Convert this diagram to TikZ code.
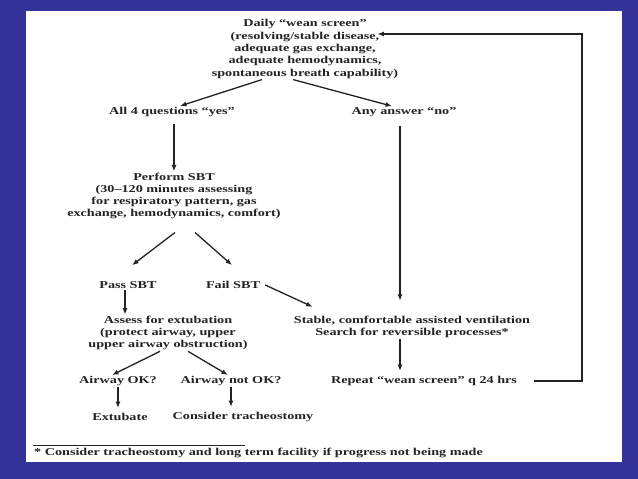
\documentclass[tikz,border=0pt]{standalone}
\usepackage{fontspec}
\newfontfamily\chartfont{Liberation Serif}[FakeStretch=1.35, Ligatures=TeX]
\usetikzlibrary{arrows.meta, positioning, calc}

\definecolor{slideblue}{RGB}{51,51,153}
\definecolor{ink}{RGB}{35,35,35}

\tikzset{
  lbl/.style={font=\chartfont\bfseries\fontsize{10.5}{12.3}\selectfont,
    text=ink, align=center, inner sep=1pt},
  arr/.style={-{Latex[length=6.5pt,width=5pt]}, line width=1.3pt, ink},
}

\begin{document}
\begin{tikzpicture}[x=1pt,y=1pt]
% slide frame
\fill[slideblue] (0,0) rectangle (638,479);
\fill[white] (26,17) rectangle (622,468);

% boxes of text
\node[lbl] (screen) at (305,430) {Daily ``wean screen''\\(resolving/stable disease,\\adequate gas exchange,\\adequate hemodynamics,\\spontaneous breath capability)};
\node[lbl] (yes) at (172,367) {All 4 questions ``yes''};
\node[lbl] (no) at (404,367) {Any answer ``no''};
\node[lbl] (sbt) at (174,283) {Perform SBT\\(30--120 minutes assessing\\for respiratory pattern, gas\\exchange, hemodynamics, comfort)};
\node[lbl] (pass) at (128,194) {Pass SBT};
\node[lbl] (fail) at (233,194) {Fail SBT};
\node[lbl] (assess) at (168,146) {Assess for extubation\\(protect airway, upper\\upper airway obstruction)};
\node[lbl] (ok) at (118,98) {Airway OK?};
\node[lbl] (notok) at (231,98) {Airway not OK?};
\node[lbl] (extub) at (120,62) {Extubate};
\node[lbl] (trach) at (243,62) {Consider tracheostomy};
\node[lbl] (stable) at (412,152) {Stable, comfortable assisted ventilation\\Search for reversible processes*};
\node[lbl] (repeat) at (424,98) {Repeat ``wean screen'' q 24 hrs};
\node[lbl, anchor=west] (foot) at (33,26) {* Consider tracheostomy and long term facility if progress not being made};
\coordinate (back) at (582,445);

% connectors
\draw[arr] ([xshift=-43pt]screen.south) -- ([xshift=8pt]yes.north);
\draw[arr] ([xshift=-12pt]screen.south) -- ([xshift=-12pt]no.north);
\draw[arr] ([xshift=2pt,yshift=-6pt]yes.south) -- (sbt.north);
\draw[arr] ([shift={(1,-12)}]sbt.south) -- ([shift={(4,15)}]pass.north);
\draw[arr] ([shift={(21,-12)}]sbt.south) -- ([shift={(-1,15)}]fail.north);
\draw[arr] ([xshift=-3pt]pass.south) -- ([xshift=-43pt]assess.north);
\draw[arr] ([xshift=-8pt]assess.south) -- ([xshift=-6pt]ok.north);
\draw[arr] ([xshift=20pt]assess.south) -- ([xshift=-3pt]notok.north);
\draw[arr] (ok.south) -- ([yshift=4pt]ok.south |- extub.north);
\draw[arr] (notok.south) -- ([yshift=4pt]notok.south |- trach.north);
\draw[arr] ([xshift=4pt]fail.east) -- ([shift={(20,8)}]stable.north west);
\draw[arr] ([xshift=-4pt,yshift=-8pt]no.south) -- ([xshift=-12pt,yshift=14pt]stable.north);
\draw[arr] ([xshift=-12pt]stable.south) -- ([xshift=-24pt,yshift=4pt]repeat.north);
\draw[arr] ([xshift=16pt]repeat.east) -| (back) -- ([xshift=-22pt]back -| screen.east);

% footnote rule
\draw[line width=0.8pt, ink] ([yshift=2pt]foot.north west) -- ++(212,0);
\end{tikzpicture}
\end{document}
